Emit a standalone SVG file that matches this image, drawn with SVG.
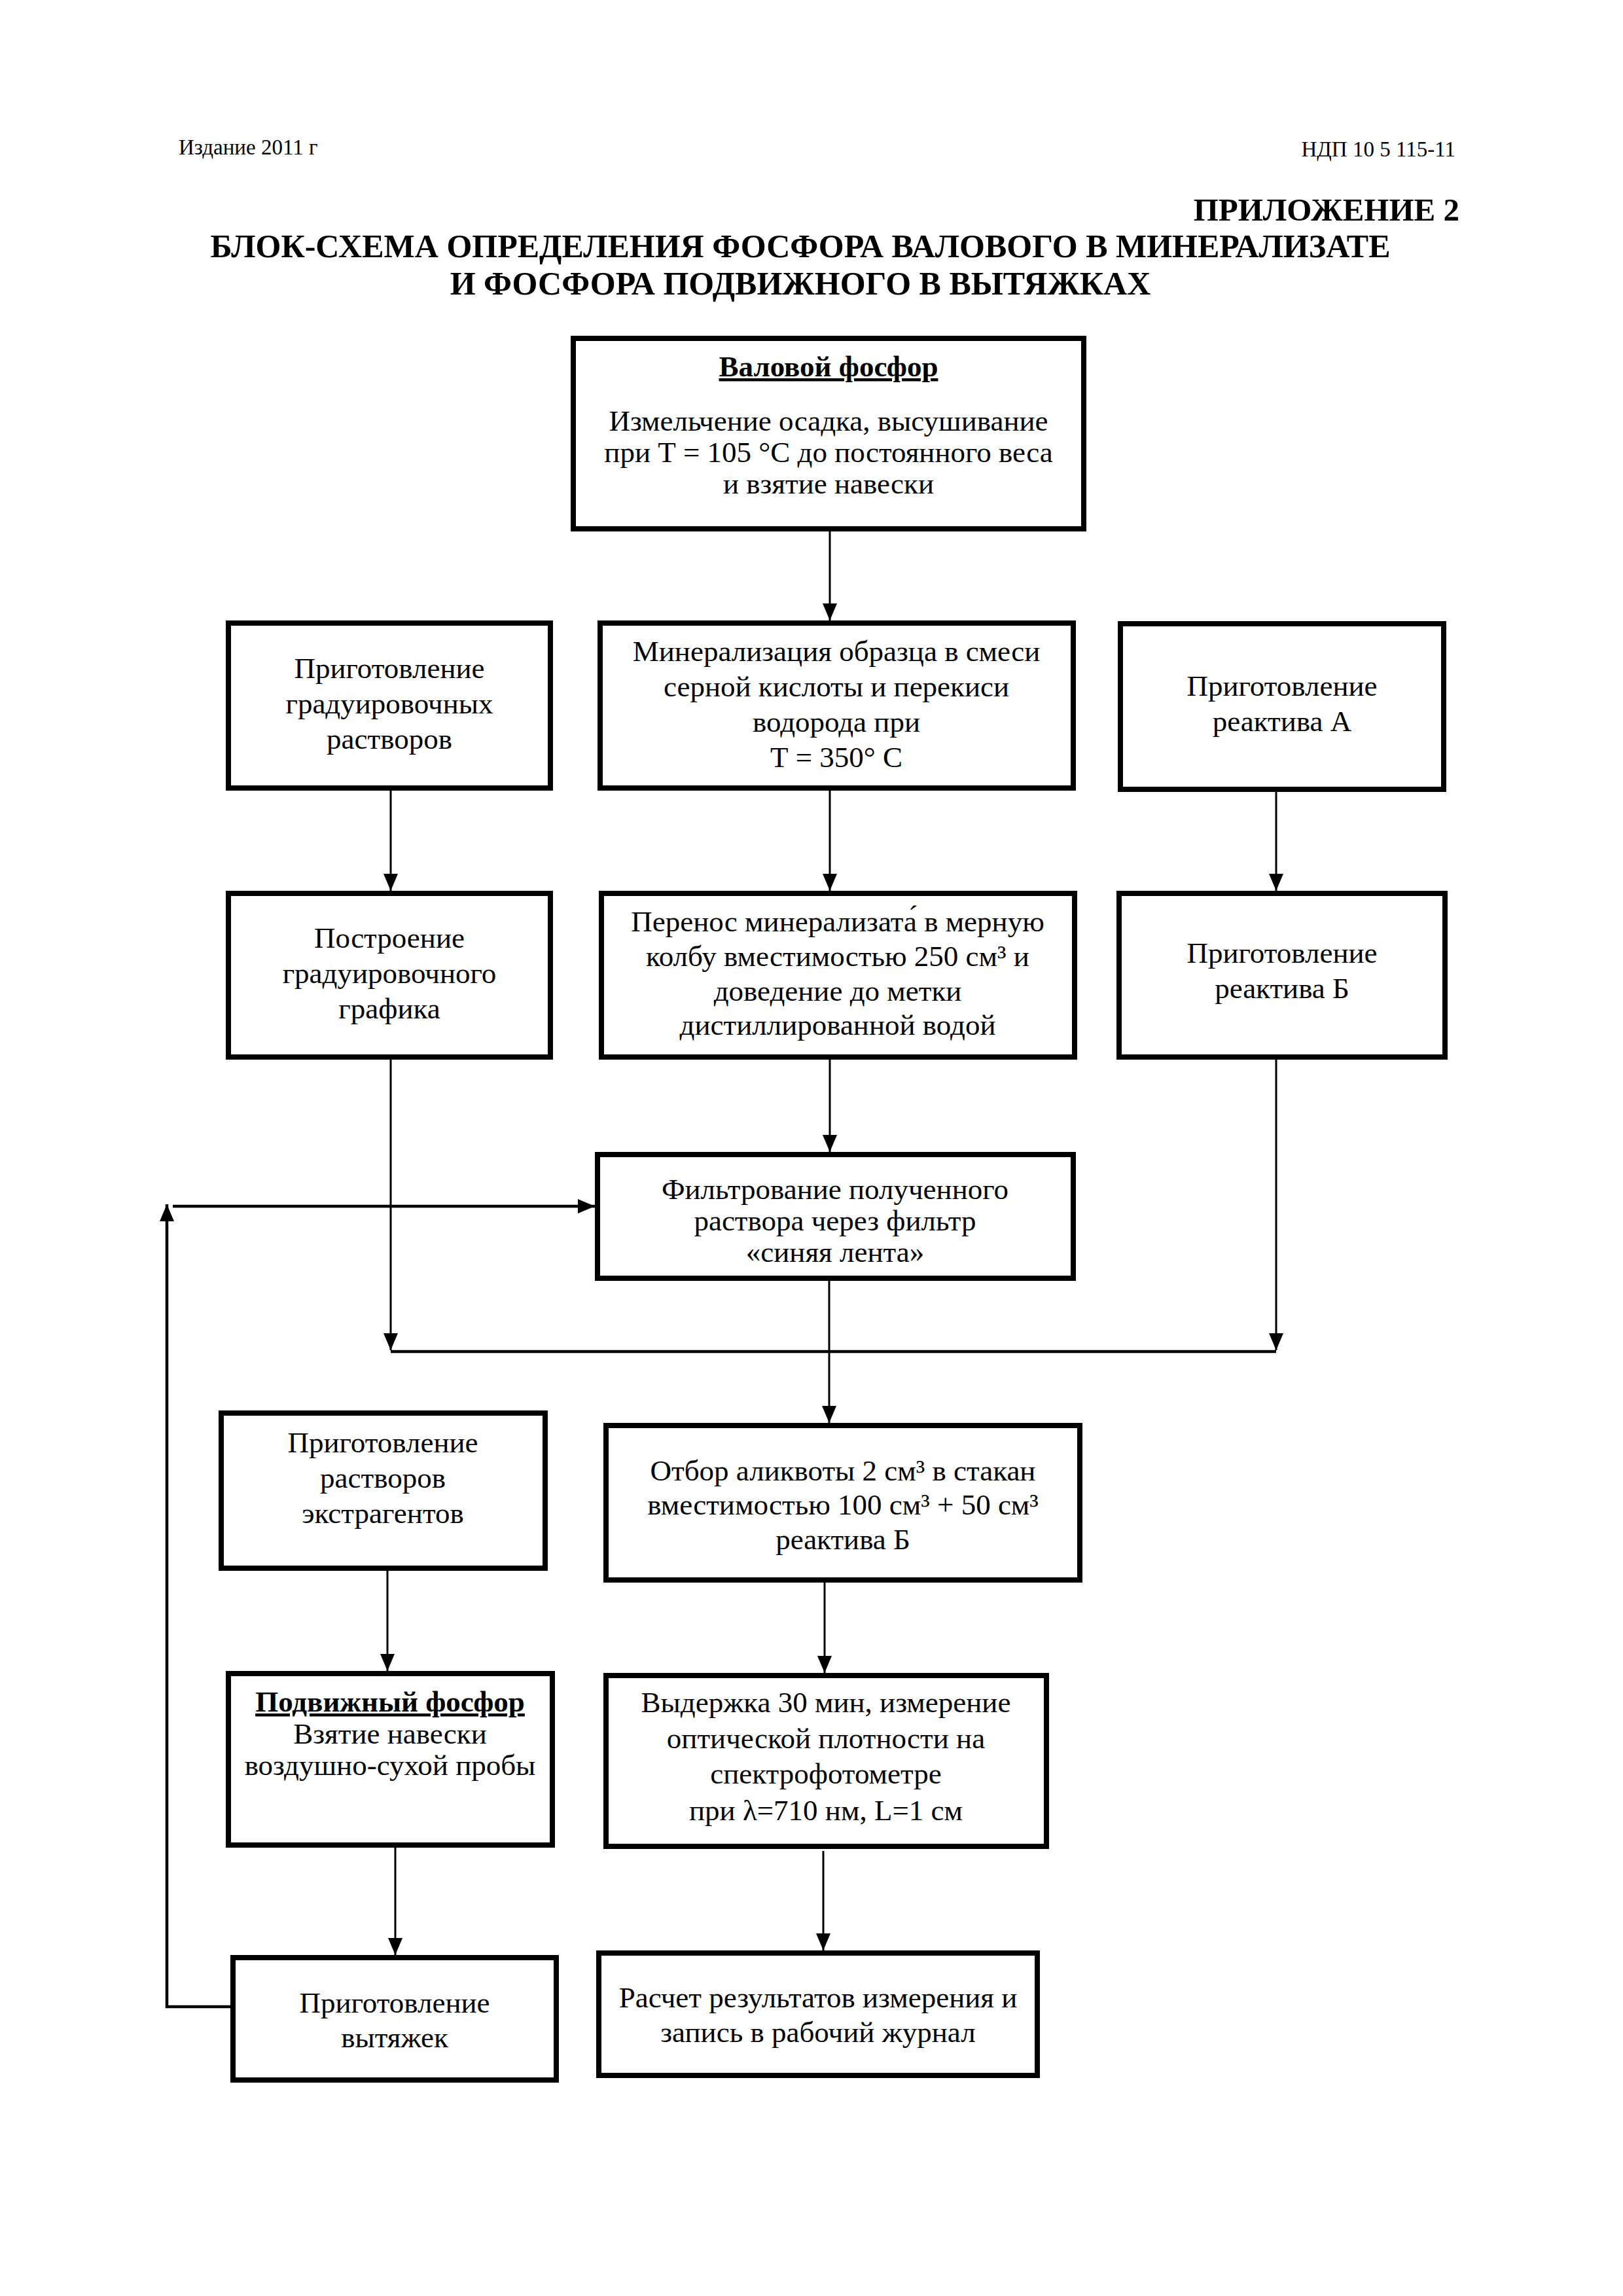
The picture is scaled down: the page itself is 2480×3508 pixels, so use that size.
<svg xmlns="http://www.w3.org/2000/svg" width="2480" height="3508" viewBox="0 0 2480 3508">
<style>
text{font-family:"Liberation Serif","Times New Roman",serif;fill:#000}
.hd{font-size:33px}
.ttl{font-size:50px;font-weight:bold}
.app{font-size:49px;font-weight:bold}
.t{font-size:45px;text-anchor:middle}
.b{font-weight:bold;text-decoration:underline}
.box{fill:#fff;stroke:#000;stroke-width:8}
.ln{fill:none;stroke:#000;stroke-width:3}
.lnb{fill:none;stroke:#000;stroke-width:4.5}
</style>
<defs>
<marker id="ah" markerUnits="userSpaceOnUse" markerWidth="26" markerHeight="22" refX="26" refY="11" orient="auto">
<path d="M0,0 L26,11 L0,22 z" fill="#000"/>
</marker>
</defs>
<rect width="2480" height="3508" fill="#fff"/>
<text class="hd" x="273" y="236">Издание 2011 г</text>
<text class="hd" x="2224" y="239" text-anchor="end">НДП 10 5 115-11</text>
<text class="app" x="2230" y="337" text-anchor="end">ПРИЛОЖЕНИЕ 2</text>
<text class="ttl" x="1223" y="393" text-anchor="middle">БЛОК-СХЕМА ОПРЕДЕЛЕНИЯ ФОСФОРА ВАЛОВОГО В МИНЕРАЛИЗАТЕ</text>
<text class="ttl" x="1223" y="450" text-anchor="middle">И ФОСФОРА ПОДВИЖНОГО В ВЫТЯЖКАХ</text>
<g id="connectors">
<path class="ln" d="M1268,812 V948" marker-end="url(#ah)"/>
<path class="ln" d="M597,1208 V1361" marker-end="url(#ah)"/>
<path class="ln" d="M1268,1208 V1361" marker-end="url(#ah)"/>
<path class="ln" d="M1950,1210 V1361" marker-end="url(#ah)"/>
<path class="ln" d="M597,1619 V2063" marker-end="url(#ah)"/>
<path class="ln" d="M1268,1619 V1760" marker-end="url(#ah)"/>
<path class="ln" d="M1950,1619 V2063" marker-end="url(#ah)"/>
<path class="lnb" d="M597,2065 H1950"/>
<path class="ln" d="M1267,1957 V2174" marker-end="url(#ah)"/>
<path class="ln" d="M592,2400 V2553" marker-end="url(#ah)"/>
<path class="ln" d="M1260,2418 V2556" marker-end="url(#ah)"/>
<path class="ln" d="M604,2823 V2987" marker-end="url(#ah)"/>
<path class="ln" d="M1258,2828 V2980" marker-end="url(#ah)"/>
<path class="lnb" d="M352,3066 H255 V1840" marker-end="url(#ah)"/>
<path class="lnb" d="M264,1843 H909" marker-end="url(#ah)"/>
</g>
<g id="n-valovoy">
<rect class="box" x="876" y="517" width="780" height="291"/>
<text class="t b" x="1266" y="575">Валовой фосфор</text>
<text class="t" x="1266" y="658">Измельчение осадка, высушивание</text>
<text class="t" x="1266" y="706">при Т = 105 °С до постоянного веса</text>
<text class="t" x="1266" y="754">и взятие навески</text>
</g>
<g id="n-grad-rastv">
<rect class="box" x="349" y="952" width="492" height="252"/>
<text class="t" x="595" y="1036">Приготовление</text>
<text class="t" x="595" y="1090">градуировочных</text>
<text class="t" x="595" y="1144">растворов</text>
</g>
<g id="n-mineral">
<rect class="box" x="917" y="952" width="723" height="252"/>
<text class="t" x="1278" y="1010">Минерализация образца в смеси</text>
<text class="t" x="1278" y="1064">серной кислоты и перекиси</text>
<text class="t" x="1278" y="1118">водорода при</text>
<text class="t" x="1278" y="1172">Т = 350° С</text>
</g>
<g id="n-reakt-a">
<rect class="box" x="1712" y="953" width="494" height="253"/>
<text class="t" x="1959" y="1063">Приготовление</text>
<text class="t" x="1959" y="1117">реактива А</text>
</g>
<g id="n-grafik">
<rect class="box" x="349" y="1365" width="492" height="250"/>
<text class="t" x="595" y="1448">Построение</text>
<text class="t" x="595" y="1502">градуировочного</text>
<text class="t" x="595" y="1556">графика</text>
</g>
<g id="n-perenos">
<rect class="box" x="919" y="1365" width="723" height="250"/>
<text class="t" x="1280" y="1423">Перенос минерализата́ в мерную</text>
<text class="t" x="1280" y="1476">колбу вместимостью 250 см³ и</text>
<text class="t" x="1280" y="1529">доведение до метки</text>
<text class="t" x="1280" y="1581">дистиллированной водой</text>
</g>
<g id="n-reakt-b">
<rect class="box" x="1710" y="1365" width="498" height="250"/>
<text class="t" x="1959" y="1471">Приготовление</text>
<text class="t" x="1959" y="1525">реактива Б</text>
</g>
<g id="n-filtr">
<rect class="box" x="913" y="1764" width="727" height="189"/>
<text class="t" x="1276" y="1832">Фильтрование полученного</text>
<text class="t" x="1276" y="1880">раствора через фильтр</text>
<text class="t" x="1276" y="1928">«синяя лента»</text>
</g>
<g id="n-extr">
<rect class="box" x="338" y="2159" width="495" height="237"/>
<text class="t" x="585" y="2219">Приготовление</text>
<text class="t" x="585" y="2273">растворов</text>
<text class="t" x="585" y="2327">экстрагентов</text>
</g>
<g id="n-otbor">
<rect class="box" x="926" y="2178" width="724" height="236"/>
<text class="t" x="1288" y="2262">Отбор аликвоты 2 см³ в стакан</text>
<text class="t" x="1288" y="2314">вместимостью 100 см³ + 50 см³</text>
<text class="t" x="1288" y="2367">реактива Б</text>
</g>
<g id="n-podv">
<rect class="box" x="349" y="2557" width="495" height="262"/>
<text class="t b" x="596" y="2615">Подвижный фосфор</text>
<text class="t" x="596" y="2664">Взятие навески</text>
<text class="t" x="596" y="2712">воздушно-сухой пробы</text>
</g>
<g id="n-vyderzh">
<rect class="box" x="926" y="2560" width="673" height="261"/>
<text class="t" x="1262" y="2616">Выдержка 30 мин, измерение</text>
<text class="t" x="1262" y="2671">оптической плотности на</text>
<text class="t" x="1262" y="2725">спектрофотометре</text>
<text class="t" x="1262" y="2781">при λ=710 нм, L=1 см</text>
</g>
<g id="n-vytyazh">
<rect class="box" x="356" y="2991" width="494" height="187"/>
<text class="t" x="603" y="3075">Приготовление</text>
<text class="t" x="603" y="3128">вытяжек</text>
</g>
<g id="n-raschet">
<rect class="box" x="915" y="2984" width="670" height="187"/>
<text class="t" x="1250" y="3067">Расчет результатов измерения и</text>
<text class="t" x="1250" y="3120">запись в рабочий журнал</text>
</g>
</svg>
